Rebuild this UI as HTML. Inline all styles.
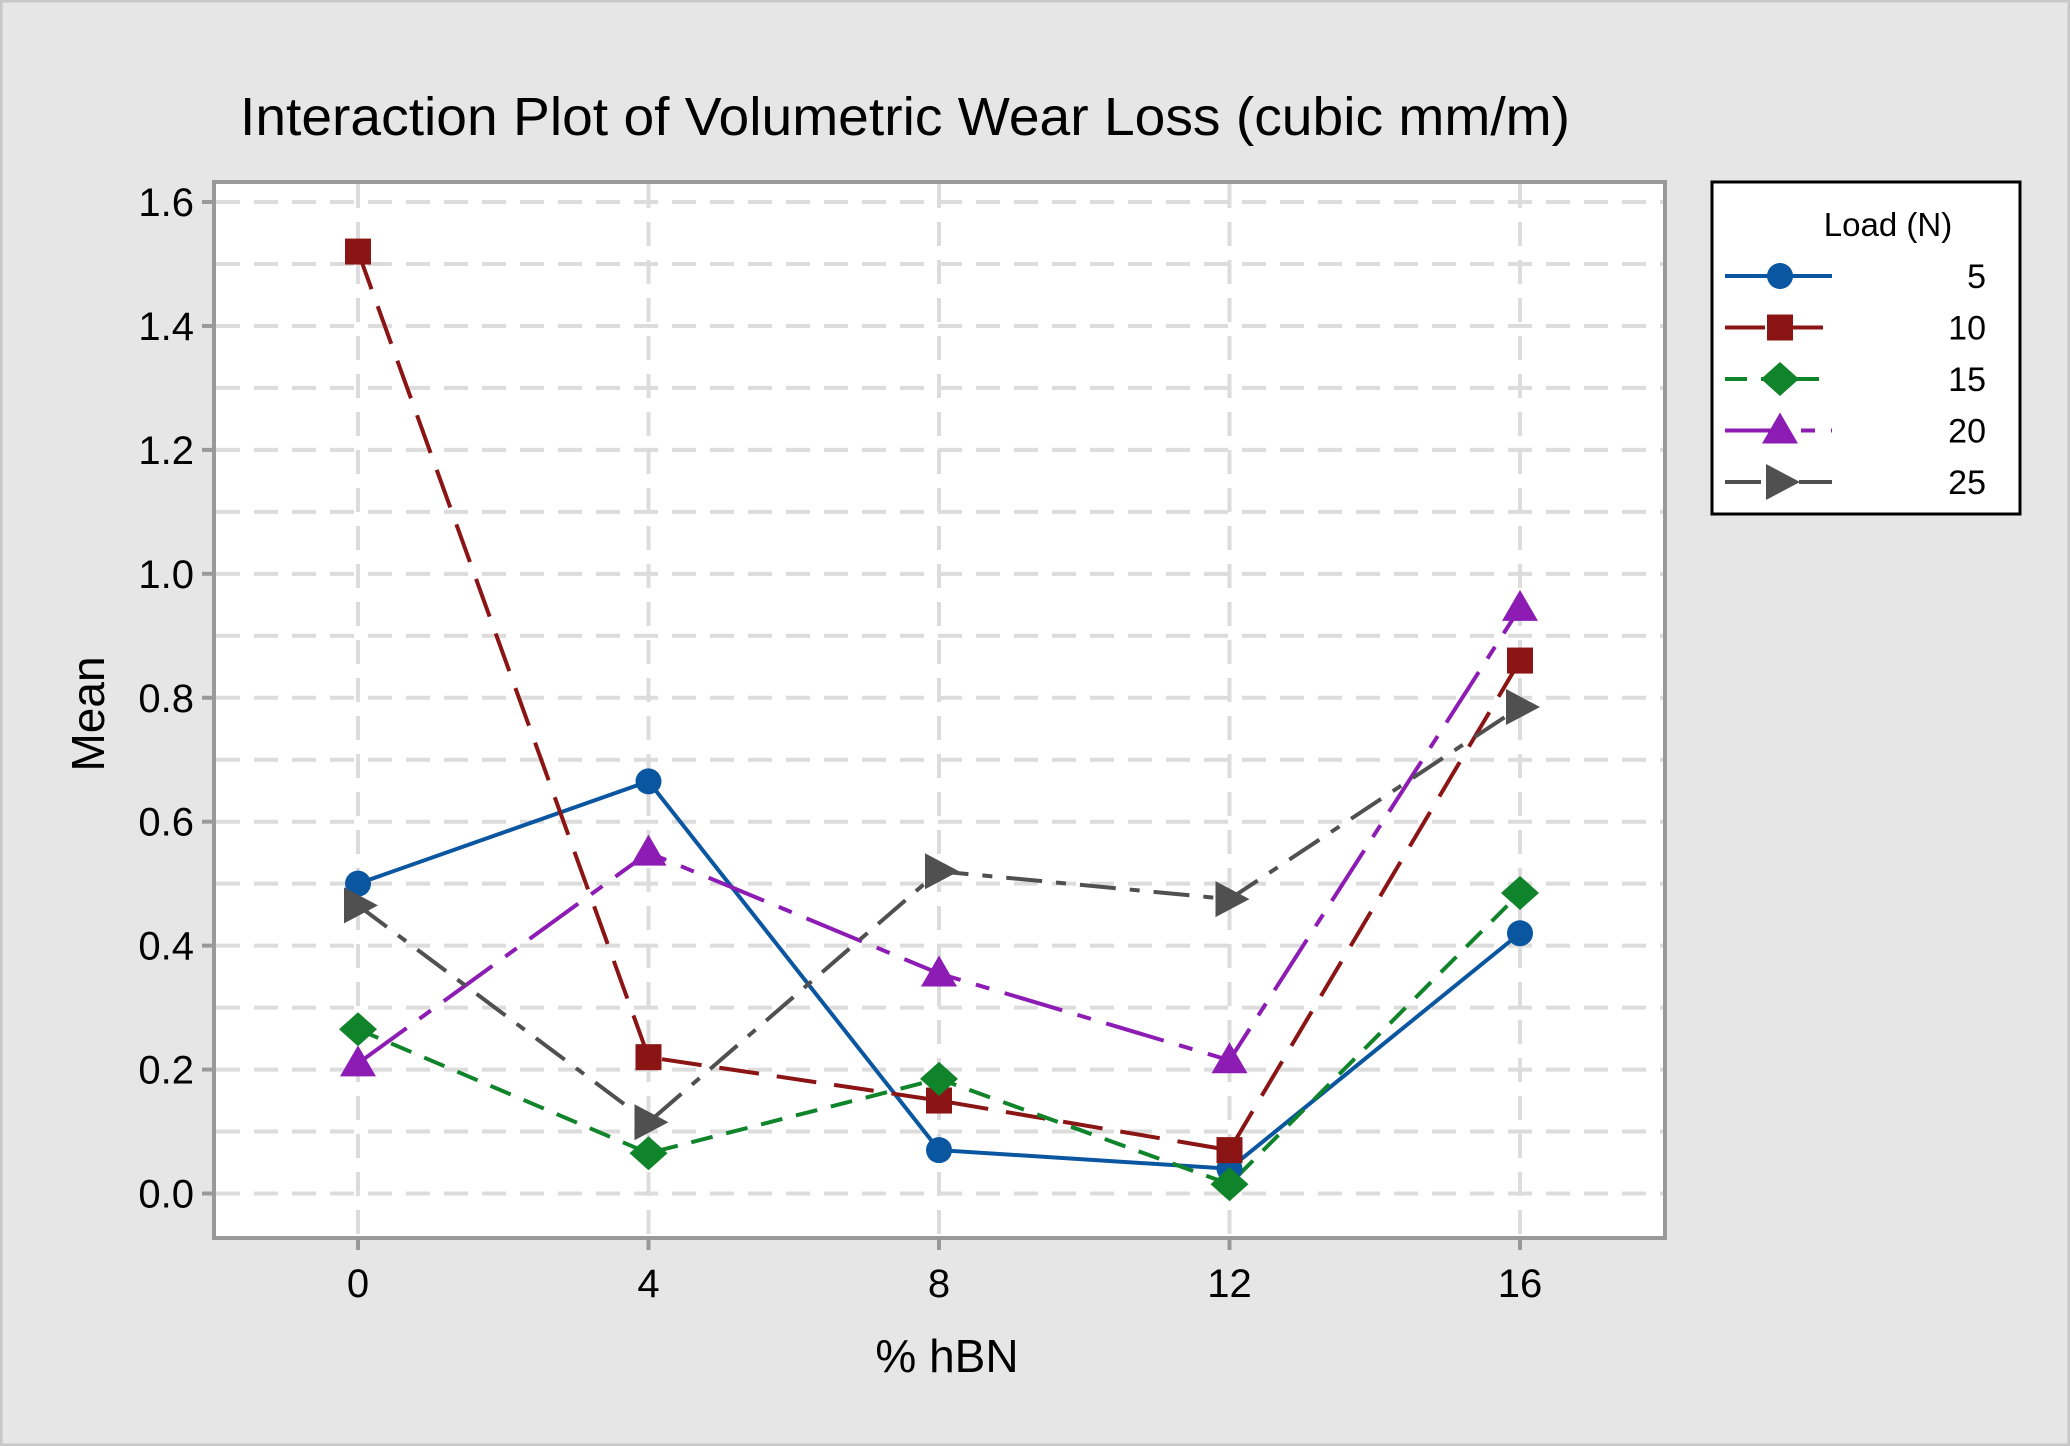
<!DOCTYPE html>
<html><head><meta charset="utf-8"><style>
html,body{margin:0;padding:0;background:#e6e6e6;}
svg{display:block;font-family:"Liberation Sans",sans-serif;}
</style></head><body>
<svg id="chart" width="2070" height="1446" viewBox="0 0 2070 1446">
<rect x="1" y="1" width="2068" height="1444" fill="#e6e6e6" stroke="#c8c8c8" stroke-width="3"/>
<text x="240" y="135" font-size="54" textLength="1330" lengthAdjust="spacingAndGlyphs">Interaction Plot of Volumetric Wear Loss (cubic mm/m)</text>
<rect x="214" y="182" width="1451" height="1056" fill="#fff"/>
<g id="grid"></g>
<g id="series"></g>
<rect x="214" y="182" width="1451" height="1056" fill="none" stroke="#999" stroke-width="4"/>
<g id="axes"></g>
<text x="947" y="1372" font-size="46" text-anchor="middle">% hBN</text>
<text transform="translate(104,714) rotate(-90)" font-size="46" text-anchor="middle">Mean</text>
<rect x="1712" y="182" width="308" height="332" fill="#fff" stroke="#000" stroke-width="3"/>
<text x="1888" y="236" font-size="33" text-anchor="middle">Load (N)</text>
<g id="legend"></g>
</svg>
<script>
const categories = [0, 4, 8, 12, 16];
const seriesNames = ["5", "10", "15", "20", "25"];
const load5 = [0.50, 0.665, 0.07, 0.04, 0.42];
const load10 = [1.52, 0.22, 0.15, 0.07, 0.86];
const load15 = [0.265, 0.065, 0.185, 0.015, 0.485];
const load20 = [0.21, 0.55, 0.355, 0.215, 0.945];
const load25 = [0.465, 0.115, 0.52, 0.475, 0.785];
const yTicks = [0.0, 0.2, 0.4, 0.6, 0.8, 1.0, 1.2, 1.4, 1.6];
const yMinor = [0.1, 0.3, 0.5, 0.7, 0.9, 1.1, 1.3, 1.5];

const NS = "http://www.w3.org/2000/svg";
const xS = v => 358 + (v - 0) * (1520 - 358) / 16;
const yS = v => 1193.5 - v * (1193.5 - 202) / 1.6;
function mk(tag, attrs, parent){const e=document.createElementNS(NS,tag);for(const k in attrs)e.setAttribute(k,attrs[k]);parent.appendChild(e);return e;}
const grid=document.getElementById('grid'), axes=document.getElementById('axes'), ser=document.getElementById('series'), leg=document.getElementById('legend');

yTicks.concat(yMinor).forEach(v=>{
  const l=mk('line',{x1:216,x2:1663,y1:yS(v),y2:yS(v),stroke:'#dcdcdc','stroke-width':4,'stroke-dasharray':'24 14'},grid);
  
  
});
categories.forEach(c=>{
  const l=mk('line',{x1:xS(c),x2:xS(c),y1:184,y2:1236,stroke:'#dcdcdc','stroke-width':4,'stroke-dasharray':'24 14'},grid);
  
  
  const t=mk('line',{x1:xS(c),x2:xS(c),y1:1238,y2:1250,stroke:'#999','stroke-width':4},axes);
  
  
  const tx=mk('text',{x:xS(c),y:1297,'font-size':40,'text-anchor':'middle'},axes);
  tx.textContent=c;
  
  
});
yTicks.forEach(v=>{
  const t=mk('line',{x1:202,x2:214,y1:yS(v),y2:yS(v),stroke:'#999','stroke-width':4},axes);
  
  
  const tx=mk('text',{x:194,y:yS(v)+14,'font-size':40,'text-anchor':'end'},axes);
  tx.textContent=v.toFixed(1);
  
  
});

const allSeries=[load5,load10,load15,load20,load25];
const colors=['#0a56a0','#8b1414','#10842a','#8c1cb4','#505050'];
const dashes=['none','40 18','22 14','60 16 14 16','36 14 10 14'];
function marker(i,x,y,p){
  const c=colors[i];let m;
  if(i===0) m=mk('circle',{cx:x,cy:y,r:13,fill:c},p);
  else if(i===1) m=mk('rect',{x:x-13,y:y-13,width:26,height:26,fill:c},p);
  else if(i===2) m=mk('polygon',{points:`${x},${y-17} ${x+19},${y} ${x},${y+17} ${x-19},${y}`,fill:c},p);
  else if(i===3) m=mk('polygon',{points:`${x},${y-18} ${x+18},${y+13} ${x-18},${y+13}`,fill:c},p);
  else m=mk('polygon',{points:`${x-14},${y-18} ${x+20},${y} ${x-14},${y+18}`,fill:c},p);
  return m;
}
allSeries.forEach((vals,i)=>{
  const pts=vals.map((v,j)=>xS(categories[j])+','+yS(v)).join(' ');
  const pl=mk('polyline',{points:pts,fill:'none',stroke:colors[i],'stroke-width':4,'stroke-dasharray':dashes[i]},ser);
  
  
});
allSeries.forEach((vals,i)=>{
  vals.forEach((v,j)=>{
    const m=marker(i,xS(categories[j]),yS(v),ser);
    
    
  });
});
seriesNames.forEach((n,i)=>{
  const y=276+i*51.5;
  const l=mk('line',{x1:1725,x2:1832,y1:y,y2:y,stroke:colors[i],'stroke-width':4,'stroke-dasharray':dashes[i]},leg);
  
  
  const m=marker(i,1780,y,leg);
  
  
  const t=mk('text',{x:1986,y:y+12,'font-size':34,'text-anchor':'end'},leg);
  t.textContent=n;
  
  
});
</script>
</body></html>
